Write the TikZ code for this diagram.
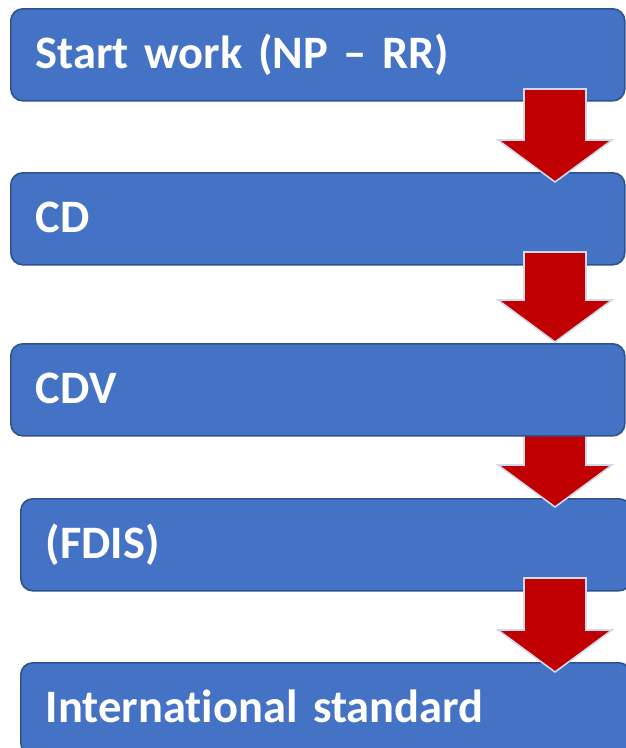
\documentclass[tikz,border=0pt]{standalone}
\usepackage{fontspec}
\setmainfont{Carlito}[Ligatures=NoCommon]
\usepackage{tikz}
\usetikzlibrary{calc}
\usetikzlibrary{positioning}
\definecolor{stageBlue}{RGB}{68,114,196}
\definecolor{stageBorder}{RGB}{47,82,143}
\definecolor{stepRed}{RGB}{192,0,0}
\definecolor{stepBorder}{RGB}{208,216,236}
\tikzset{
    stage/.style={
        ,   rectangle
        ,   rounded corners=12pt
        ,   fill=stageBlue
        ,   draw=stageBorder
        ,   line width=1.6pt
        ,   minimum height=92pt
        ,   inner xsep=25pt
        ,   text height=28pt
        ,   text depth=0pt
        ,   align=left
        ,   text=white
        ,   anchor=north west
    },
    stepArrow/.style={
        ,   fill=stepRed
        ,   draw=stepBorder
        ,   line width=1.6pt
        ,   line join=miter
    }
}
% block arrow: #1 = x of the middle, #2 = top of the shaft, #3 = tip
\newcommand{\stepdown}[3]{%
    \draw[stepArrow] (#1-31,#2) -- (#1+31,#2) -- (#1+31,#3-42) -- (#1+57,#3-42)
        -- (#1,#3) -- (#1-57,#3-42) -- (#1-31,#3-42) -- cycle;
}
\begin{document}
\begin{tikzpicture}[x=1pt, y=-1pt, font={\fontsize{46.5pt}{54pt}\selectfont\bfseries}]
	\useasboundingbox (0,0) rectangle (626,748);
	\clip (0,0) rectangle (626,748);

	% fourth box first, so that the third arrow runs under box three
	\node[stage, text width=560pt] (fdis) at (20,498) {(FDIS)};
	\stepdown{555}{420}{507}
	\node[stage, text width=564pt] (cdv) at (10,343) {CDV};

	\node[stage, text width=564pt] (start) at (10,8) {Start work (NP -- RR)};
	\node[stage, text width=564pt] (cd) at (10,172) {CD};
	\stepdown{555}{89}{182}
	\stepdown{555}{252}{342}

	\node[stage, text width=560pt] (is) at (20,662) {International standard};
	\stepdown{555}{578}{672}
\end{tikzpicture}
\end{document}
